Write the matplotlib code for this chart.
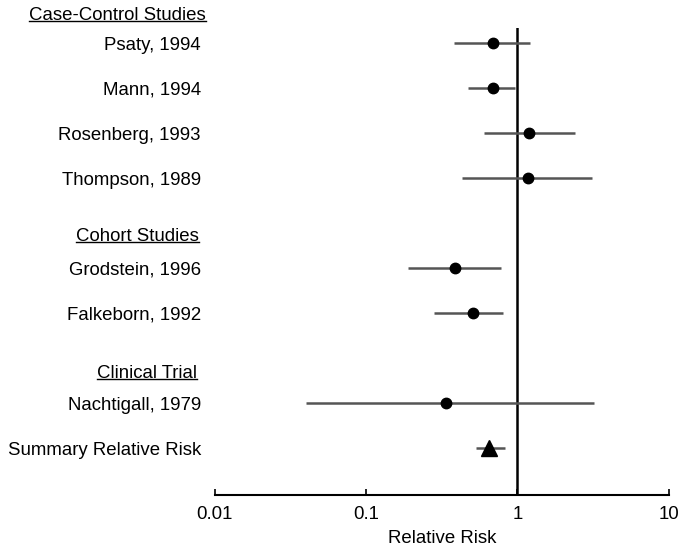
import numpy as np
import matplotlib.pyplot as plt
from matplotlib.transforms import blended_transform_factory
from matplotlib.lines import Line2D

plt.rcParams['font.family'] = ['Liberation Sans', 'DejaVu Sans']

# study rows (row index: 1 = top)
studies = ["Psaty, 1994", "Mann, 1994", "Rosenberg, 1993", "Thompson, 1989",
           "Grodstein, 1996", "Falkeborn, 1992", "Nachtigall, 1979"]
rows = [1, 2, 3, 4, 6, 7, 9]
rr = [0.69, 0.69, 1.20, 1.18, 0.39, 0.51, 0.34]
lo = [0.38, 0.47, 0.60, 0.43, 0.19, 0.28, 0.040]
hi = [1.22, 0.97, 2.41, 3.13, 0.78, 0.80, 3.2]

summary_row = 10
summary_rr = 0.65
summary_lo = 0.53
summary_hi = 0.83

headers = ["Case-Control Studies", "Cohort Studies", "Clinical Trial"]
header_rows = [0.33, 5.24, 8.29]
header_right = [206, 199, 197]  # pixels

ticks = [0.01, 0.1, 1, 10]
tick_labels = ["0.01", "0.1", "1", "10"]

fs = 13.4

fig = plt.figure(figsize=(6.8, 5.46), dpi=100)
ax = fig.add_axes([214.7 / 680, 1 - 495 / 546, (668.7 - 214.7) / 680, (495 - 28) / 546])
ax.set_xscale("log")
ax.set_xlim(0.01, 10)
ax.set_ylim(11.04, 0.66)

# confidence intervals and points
for y, r, l, h in zip(rows, rr, lo, hi):
    ax.plot([l, h], [y, y], color="#555555", lw=1.8, solid_capstyle="butt", zorder=2)
    ax.plot(r, y, "o", color="black", ms=7.5, zorder=3)

ax.plot([summary_lo, summary_hi], [summary_row, summary_row], color="#555555", lw=1.8,
        solid_capstyle="butt", zorder=2)
ax.plot(summary_rr, summary_row, "^", color="black", ms=12, zorder=3)

ax.axvline(1, color="black", lw=1.8, zorder=1)

for s in ["left", "right", "top"]:
    ax.spines[s].set_visible(False)
ax.spines["bottom"].set_linewidth(1.5)
ax.set_yticks([])
ax.set_xticks(ticks)
ax.set_xticklabels(tick_labels)
ax.xaxis.set_minor_locator(plt.NullLocator())
ax.tick_params(axis="x", direction="in", length=4, width=1.2, labelsize=fs, pad=8)
ax.set_xlabel("Relative Risk", fontsize=fs, labelpad=5)

trans = blended_transform_factory(fig.transFigure, ax.transData)
for name, y in zip(studies, rows):
    ax.text(201 / 680, y, name, transform=trans, ha="right", va="center_baseline", fontsize=fs)
ax.text(201 / 680, summary_row, "Summary Relative Risk", transform=trans,
        ha="right", va="center_baseline", fontsize=fs)

head_texts = []
for name, y, xr in zip(headers, header_rows, header_right):
    t = ax.text(xr / 680, y, name, transform=trans, ha="right", va="center_baseline", fontsize=fs)
    head_texts.append(t)

# underline headers
fig.canvas.draw()
for t in head_texts:
    bb = t.get_window_extent()
    yline = (bb.y0 + 2.5) / fig.bbox.height
    fig.add_artist(Line2D([bb.x0 / fig.bbox.width, bb.x1 / fig.bbox.width], [yline, yline],
                          color="black", lw=1.0))

fig.savefig("out.png", dpi=100)
